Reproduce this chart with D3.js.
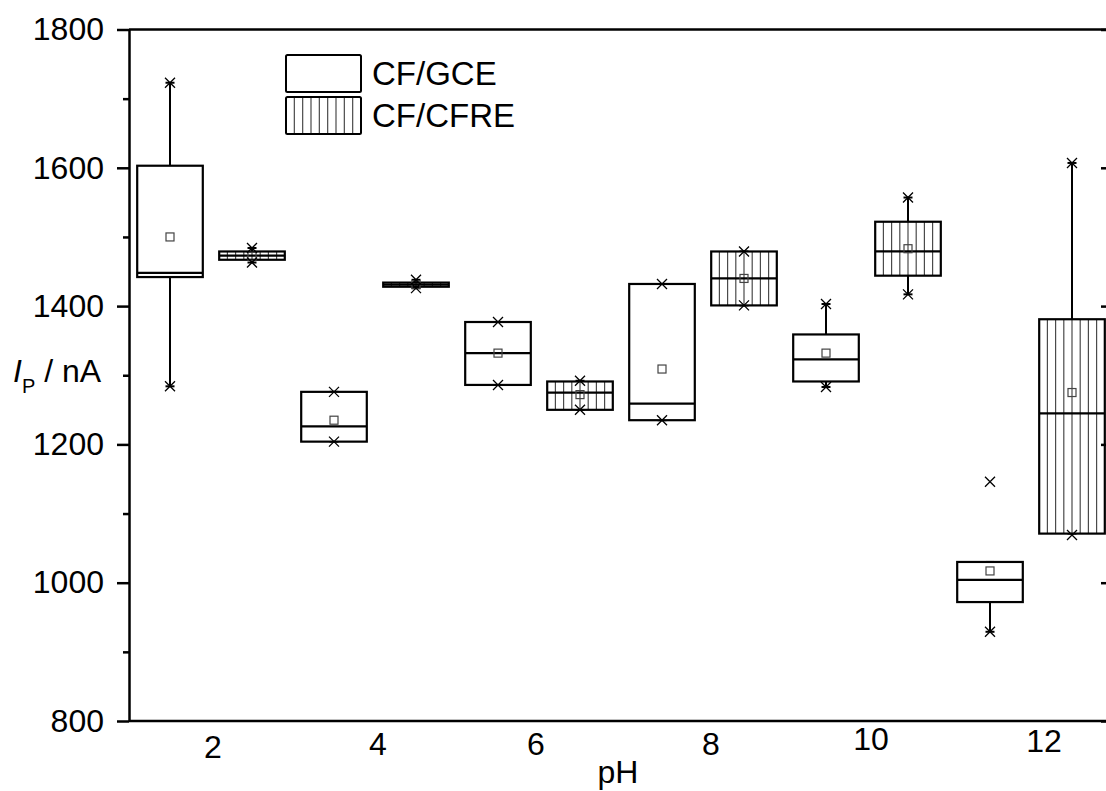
<!DOCTYPE html>
<html>
<head>
<meta charset="utf-8">
<script src="https://cdn.jsdelivr.net/npm/d3@7"></script>
<style>
  html, body { margin: 0; padding: 0; background: #fff; }
  svg { display: block; font-family: "Liberation Sans", Arial, sans-serif; }
</style>
</head>
<body>
<svg id="chart" width="1106" height="791"></svg>
<script>
// pH values (one pair of boxes per pH)
const phValues = [2, 4, 6, 8, 10, 12];
const tickLabels = ["2", "4", "6", "8", "10", "12"];
const seriesNames = ["CF/GCE", "CF/CFRE"];

// CF/GCE peak current statistics (nA)
const gceMin      = [1284, 1204, 1286, 1235, 1283, 929];
const gceWhiskLo  = [1284, 1204, 1286, 1235, 1283, 929];
const gceQ1       = [1442, 1204, 1286, 1235, 1291, 972];
const gceMedian   = [1448, 1226, 1332, 1259, 1323, 1004];
const gceMean     = [1500, 1235, 1332, 1309, 1332, 1017];
const gceQ3       = [1603, 1276, 1377, 1432, 1359, 1030];
const gceWhiskHi  = [1723, 1276, 1377, 1432, 1403, 1030];
const gceMax      = [1723, 1276, 1377, 1432, 1403, 1146];

// CF/CFRE peak current statistics (nA)
const cfreMin     = [1463, 1426, 1250, 1401, 1417, 1069];
const cfreWhiskLo = [1463, 1426, 1250, 1401, 1417, 1071];
const cfreQ1      = [1467, 1428, 1250, 1401, 1444, 1071];
const cfreMedian  = [1473, 1431, 1275, 1440, 1479, 1245];
const cfreMean    = [1472, 1431, 1272, 1440, 1483, 1275];
const cfreQ3      = [1479, 1434, 1291, 1479, 1522, 1381];
const cfreWhiskHi = [1484, 1438, 1292, 1479, 1557, 1607];
const cfreMax     = [1484, 1438, 1292, 1479, 1557, 1607];

const yMajorTicks = [800, 1000, 1200, 1400, 1600, 1800];
const yMinorTicks = [900, 1100, 1300, 1500, 1700];

// ---- layout ----
const svg = d3.select("#chart");
const plotLeft = 129, plotRight = 1113, plotTop = 29.5, plotBottom = 721;
const x = d3.scaleLinear().domain([1, 13]).range([plotLeft, plotRight]);
const y = d3.scaleLinear().domain([800, 1800]).range([plotBottom, plotTop]);
const boxW = x(1.8) - x(1);
const hatchStep = 8.25;

function buildRows(offset, mn, wl, q1, md, mean, q3, wh, mx, hatched) {
  return phValues.map((p, i) => ({
    cx: x(p + offset), min: mn[i], wLo: wl[i], q1: q1[i], med: md[i],
    mean: mean[i], q3: q3[i], wHi: wh[i], max: mx[i], hatched
  }));
}
const rows = [
  ...buildRows(-0.5, gceMin, gceWhiskLo, gceQ1, gceMedian, gceMean, gceQ3, gceWhiskHi, gceMax, false),
  ...buildRows(0.5, cfreMin, cfreWhiskLo, cfreQ1, cfreMedian, cfreMean, cfreQ3, cfreWhiskHi, cfreMax, true)
];

// vertical hatch inside a rectangle
function hatch(g, x0, y0, w, h) {
  const n = Math.max(1, Math.round(w / hatchStep));
  const xs = d3.range(1, n).map(k => x0 + k * w / n);
  g.selectAll(null).data(xs).join("line")
    .attr("x1", d => d).attr("x2", d => d)
    .attr("y1", y0).attr("y2", y0 + h)
    .attr("stroke", "#4a4a4a").attr("stroke-width", 1.2);
}

function cross(g, cx, cy) {
  const s = 5;
  g.append("path")
    .attr("d", `M${cx - s},${cy - s}L${cx + s},${cy + s}M${cx - s},${cy + s}L${cx + s},${cy - s}`)
    .attr("stroke", "#000").attr("stroke-width", 1.3).attr("fill", "none");
}

// ---- boxes ----
const boxes = svg.append("g");
rows.forEach(r => {
  const g = boxes.append("g");
  const x0 = r.cx - boxW / 2;
  const capW = 9;
  // whiskers
  g.append("line").attr("x1", r.cx).attr("x2", r.cx)
    .attr("y1", y(r.q3)).attr("y2", y(r.wHi))
    .attr("stroke", "#000").attr("stroke-width", 2);
  g.append("line").attr("x1", r.cx).attr("x2", r.cx)
    .attr("y1", y(r.q1)).attr("y2", y(r.wLo))
    .attr("stroke", "#000").attr("stroke-width", 2);
  [r.wHi, r.wLo].forEach(v => {
    g.append("line").attr("x1", r.cx - capW / 2).attr("x2", r.cx + capW / 2)
      .attr("y1", y(v)).attr("y2", y(v))
      .attr("stroke", "#000").attr("stroke-width", 2);
  });
  // box body
  const by = y(r.q3), bh = Math.max(0.01, y(r.q1) - y(r.q3));
  g.append("rect").attr("x", x0).attr("y", by).attr("width", boxW).attr("height", bh)
    .attr("fill", "#fff");
  if (r.hatched) hatch(g, x0, by, boxW, bh);
  g.append("rect").attr("x", x0).attr("y", by).attr("width", boxW).attr("height", bh)
    .attr("fill", "none").attr("stroke", "#000").attr("stroke-width", 2.2);
  // median
  g.append("line").attr("x1", x0).attr("x2", x0 + boxW)
    .attr("y1", y(r.med)).attr("y2", y(r.med))
    .attr("stroke", "#000").attr("stroke-width", 2.2);
  // mean marker
  g.append("rect").attr("x", r.cx - 4).attr("y", y(r.mean) - 4)
    .attr("width", 8).attr("height", 8)
    .attr("fill", "none").attr("stroke", "#444").attr("stroke-width", 1.2);
  // min / max markers
  cross(g, r.cx, y(r.max));
  cross(g, r.cx, y(r.min));
});

// ---- axes ----
const axisColor = "#000";
function styleAxis(g, w) {
  g.selectAll("path.domain").attr("stroke", axisColor).attr("stroke-width", w);
  g.selectAll(".tick line").attr("stroke", axisColor).attr("stroke-width", 2.5);
}
const yLeft = svg.append("g").attr("transform", `translate(${plotLeft},0)`)
  .call(d3.axisLeft(y).tickValues(yMajorTicks).tickSize(12).tickSizeOuter(0)
    .tickPadding(13).tickFormat(d3.format("d")));
styleAxis(yLeft, 2.5);
yLeft.selectAll("text").attr("font-size", 32).attr("fill", "#000")
  .attr("font-family", "'Liberation Sans', Arial, sans-serif");
const yLeftMinor = svg.append("g").attr("transform", `translate(${plotLeft},0)`)
  .call(d3.axisLeft(y).tickValues(yMinorTicks).tickSize(6).tickSizeOuter(0).tickFormat(""));
styleAxis(yLeftMinor, 0);
yLeftMinor.select("path.domain").remove();

// right axis with inward ticks
const yRight = svg.append("g").attr("transform", `translate(${plotRight},0)`)
  .call(d3.axisLeft(y).tickValues(yMajorTicks).tickSize(12).tickSizeOuter(0).tickFormat(""));
styleAxis(yRight, 2.5);
const yRightMinor = svg.append("g").attr("transform", `translate(${plotRight},0)`)
  .call(d3.axisLeft(y).tickValues(yMinorTicks).tickSize(6).tickSizeOuter(0).tickFormat(""));
styleAxis(yRightMinor, 0);
yRightMinor.select("path.domain").remove();

// top and bottom frame lines
svg.append("line").attr("x1", plotLeft).attr("x2", plotRight).attr("y1", y(1800)).attr("y2", y(1800))
  .attr("stroke", axisColor).attr("stroke-width", 2.5);
svg.append("line").attr("x1", plotLeft).attr("x2", plotRight).attr("y1", y(800)).attr("y2", y(800))
  .attr("stroke", axisColor).attr("stroke-width", 2.5);

// pH labels under each pair of boxes
const labelNudge = [[2, 758], [3, 755], [-3, 754.5], [8, 754.5], [4, 750], [13, 751.5]];
svg.append("g").selectAll("text").data(phValues).join("text")
  .attr("x", (p, i) => x(p) + labelNudge[i][0])
  .attr("y", (p, i) => labelNudge[i][1])
  .attr("text-anchor", "middle").attr("font-size", 32).attr("fill", "#000")
  .text((p, i) => tickLabels[i]);

// axis titles
svg.append("text").attr("x", 618).attr("y", 783).attr("text-anchor", "middle")
  .attr("font-size", 32).attr("fill", "#000").text("pH");

const yTitle = svg.append("text").attr("x", 13).attr("y", 382)
  .attr("font-size", 32).attr("fill", "#000");
yTitle.append("tspan").attr("font-style", "italic").text("I");
yTitle.append("tspan").attr("font-size", 20).attr("dy", 11).text("P");
yTitle.append("tspan").attr("dy", -11).text(" / nA");

// ---- legend ----
const legend = svg.append("g");
const lgX = 286, lgW = 75, lgH = 37;
const lgY = [55, 97];
seriesNames.forEach((name, i) => {
  const g = legend.append("g");
  g.append("rect").attr("x", lgX).attr("y", lgY[i]).attr("width", lgW).attr("height", lgH)
    .attr("fill", "#fff");
  if (i === 1) hatch(g, lgX, lgY[i], lgW, lgH);
  g.append("rect").attr("x", lgX).attr("y", lgY[i]).attr("width", lgW).attr("height", lgH)
    .attr("rx", 1.5).attr("fill", "none").attr("stroke", "#000").attr("stroke-width", 2);
  g.append("text").attr("x", 372).attr("y", lgY[i] + 30)
    .attr("font-size", 33).attr("fill", "#000").text(name);
});
</script>
</body>
</html>
